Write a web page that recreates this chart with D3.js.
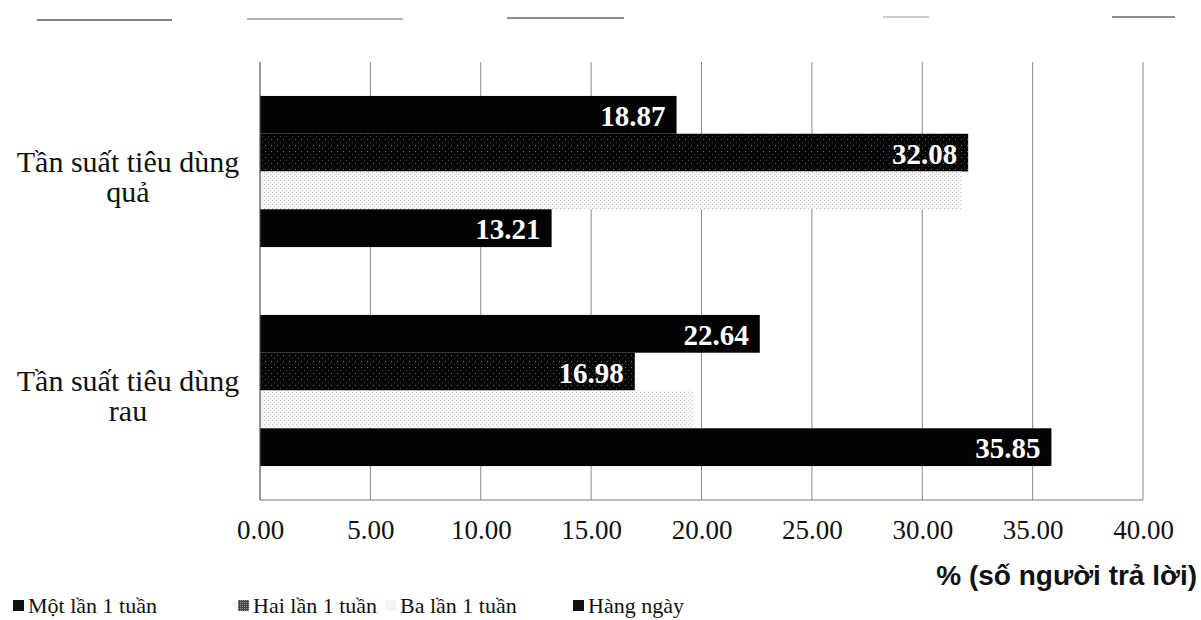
<!DOCTYPE html>
<html lang="vi">
<head>
<meta charset="utf-8">
<script src="https://cdn.jsdelivr.net/npm/d3@7/dist/d3.min.js"></script>
<style>
  html, body { margin: 0; padding: 0; background: #fff; }
  svg { display: block; }
</style>
</head>
<body>
<svg id="chart" width="1201" height="620"></svg>
<script>
// Consumption frequency of fruit and vegetables (% of respondents)
const categories = ["Tần suất tiêu dùng quả", "Tần suất tiêu dùng rau"];
const categoryLines = [["Tần suất tiêu dùng", "quả"], ["Tần suất tiêu dùng", "rau"]];
const seriesNames = ["Một lần 1 tuần", "Hai lần 1 tuần", "Ba lần 1 tuần", "Hàng ngày"];
const motLan = [18.87, 22.64];
const haiLan = [32.08, 16.98];
const baLan = [31.8, 19.6];
const hangNgay = [13.21, 35.85];
const tickValues = [0, 5, 10, 15, 20, 25, 30, 35, 40];
const axisTitle = "% (số người trả lời)";

const seriesValues = [motLan, haiLan, baLan, hangNgay];
const seriesFill = ["#030303", "url(#stippleDark)", "url(#stippleLight)", "#030303"];
const legendFill = ["#111", "url(#stippleLegend)", "#f4f4f4", "#111"];
const showLabel = [true, true, false, true];

const svg = d3.select("#chart");
const serif = "'Liberation Serif', 'Times New Roman', serif";
const sans = "'Liberation Sans', Arial, sans-serif";

// Stipple fills imitating the printed halftone shading
const defs = svg.append("defs");
const pd = defs.append("pattern").attr("id", "stippleDark")
  .attr("width", 6).attr("height", 6).attr("patternUnits", "userSpaceOnUse");
pd.append("rect").attr("width", 6).attr("height", 6).attr("fill", "#060606");
pd.append("rect").attr("x", 1).attr("y", 1).attr("width", 1).attr("height", 1).attr("fill", "#6a6a6a");
pd.append("rect").attr("x", 4).attr("y", 4).attr("width", 1).attr("height", 1).attr("fill", "#3a3a3a");

const pl = defs.append("pattern").attr("id", "stippleLight")
  .attr("width", 4).attr("height", 4).attr("patternUnits", "userSpaceOnUse");
pl.append("rect").attr("width", 4).attr("height", 4).attr("fill", "#f8f8f8");
pl.append("rect").attr("x", 0).attr("y", 0).attr("width", 1).attr("height", 1).attr("fill", "#c4c4c4");
pl.append("rect").attr("x", 2).attr("y", 2).attr("width", 1).attr("height", 1).attr("fill", "#d6d6d6");

const pg = defs.append("pattern").attr("id", "stippleLegend")
  .attr("width", 2).attr("height", 2).attr("patternUnits", "userSpaceOnUse");
pg.append("rect").attr("width", 2).attr("height", 2).attr("fill", "#444");
pg.append("rect").attr("x", 0).attr("y", 0).attr("width", 1).attr("height", 1).attr("fill", "#999");

// Faint rule along the top edge of the page
const headerRule = [[37, 172, 20, "#555"], [247, 403, 19, "#999"], [507, 624, 18, "#666"], [883, 929, 17, "#bbb"], [1112, 1175, 17, "#666"]];
svg.append("g").selectAll("line").data(headerRule).join("line")
  .attr("x1", d => d[0]).attr("x2", d => d[1])
  .attr("y1", d => d[2]).attr("y2", d => d[2])
  .attr("stroke", d => d[3]).attr("stroke-width", 1.5);

// Scales
const plot = { left: 260, right: 1143, top: 62, bottom: 500 };
const x = d3.scaleLinear().domain([0, 40]).range([plot.left, plot.right]);
const y0 = d3.scaleBand().domain(categories).range([plot.top, plot.bottom])
  .paddingInner(0.31).paddingOuter(0.155);
const y1 = d3.scaleBand().domain(seriesNames).range([0, y0.bandwidth()]);

// Vertical gridlines
svg.append("g").selectAll("line").data(tickValues.filter(v => v > 0)).join("line")
  .attr("x1", d => x(d)).attr("x2", d => x(d))
  .attr("y1", plot.top).attr("y2", plot.bottom)
  .attr("stroke", "#8a8a8a").attr("stroke-width", 1);

// Bars
const bars = [];
seriesNames.forEach((s, si) => {
  categories.forEach((c, ci) => {
    bars.push({ series: s, si, category: c, value: seriesValues[si][ci] });
  });
});

svg.append("g").selectAll("rect").data(bars).join("rect")
  .attr("x", x(0))
  .attr("y", d => y0(d.category) + y1(d.series))
  .attr("width", d => x(d.value) - x(0))
  .attr("height", y1.bandwidth())
  .attr("fill", d => seriesFill[d.si]);

// Value labels inside the bar ends
svg.append("g").selectAll("text").data(bars.filter(d => showLabel[d.si])).join("text")
  .attr("x", d => x(d.value) - 11)
  .attr("y", d => y0(d.category) + y1(d.series) + y1.bandwidth() / 2 + 1)
  .attr("text-anchor", "end")
  .attr("dominant-baseline", "central")
  .attr("font-family", serif)
  .attr("font-weight", "bold")
  .attr("font-size", 29)
  .attr("fill", "#fff")
  .text(d => d.value.toFixed(2));

// Axis frame: left axis line and bottom edge
svg.append("line").attr("x1", x(0)).attr("x2", x(0)).attr("y1", plot.top).attr("y2", plot.bottom)
  .attr("stroke", "#555").attr("stroke-width", 1.2);
svg.append("line").attr("x1", x(0)).attr("x2", x(40)).attr("y1", plot.bottom).attr("y2", plot.bottom)
  .attr("stroke", "#777").attr("stroke-width", 1.2);

// X axis tick labels
const xAxis = d3.axisBottom(x).tickValues(tickValues).tickFormat(d => d.toFixed(2)).tickSize(0).tickPadding(0);
const gx = svg.append("g").attr("transform", `translate(0, 539)`).call(xAxis);
gx.select(".domain").remove();
gx.selectAll("text")
  .attr("dy", 0)
  .attr("font-family", serif)
  .attr("font-size", 27)
  .attr("fill", "#111");

// Axis title
svg.append("text")
  .attr("x", 1197).attr("y", 585)
  .attr("text-anchor", "end")
  .attr("font-family", sans)
  .attr("font-weight", "bold")
  .attr("font-size", 28)
  .attr("fill", "#111")
  .text(axisTitle);

// Category labels
const gy = svg.append("g");
categories.forEach((c, i) => {
  const cy = y0(c) + y0.bandwidth() / 2;
  gy.append("text")
    .attr("x", 128).attr("y", cy)
    .attr("text-anchor", "middle")
    .attr("font-family", serif).attr("font-size", 30).attr("fill", "#111")
    .selectAll("tspan").data(categoryLines[i]).join("tspan")
    .attr("x", 128)
    .attr("dy", (d, j) => j === 0 ? 0 : 30)
    .text(d => d);
});

// Legend
const legendX = [13, 238, 385, 573];
const lg = svg.append("g");
seriesNames.forEach((s, i) => {
  lg.append("rect").attr("x", legendX[i]).attr("y", 600).attr("width", 11).attr("height", 11)
    .attr("fill", legendFill[i]);
  lg.append("text").attr("x", legendX[i] + 15).attr("y", 613)
    .attr("font-family", serif).attr("font-size", 22).attr("fill", "#111")
    .text(s);
});
</script>
</body>
</html>
